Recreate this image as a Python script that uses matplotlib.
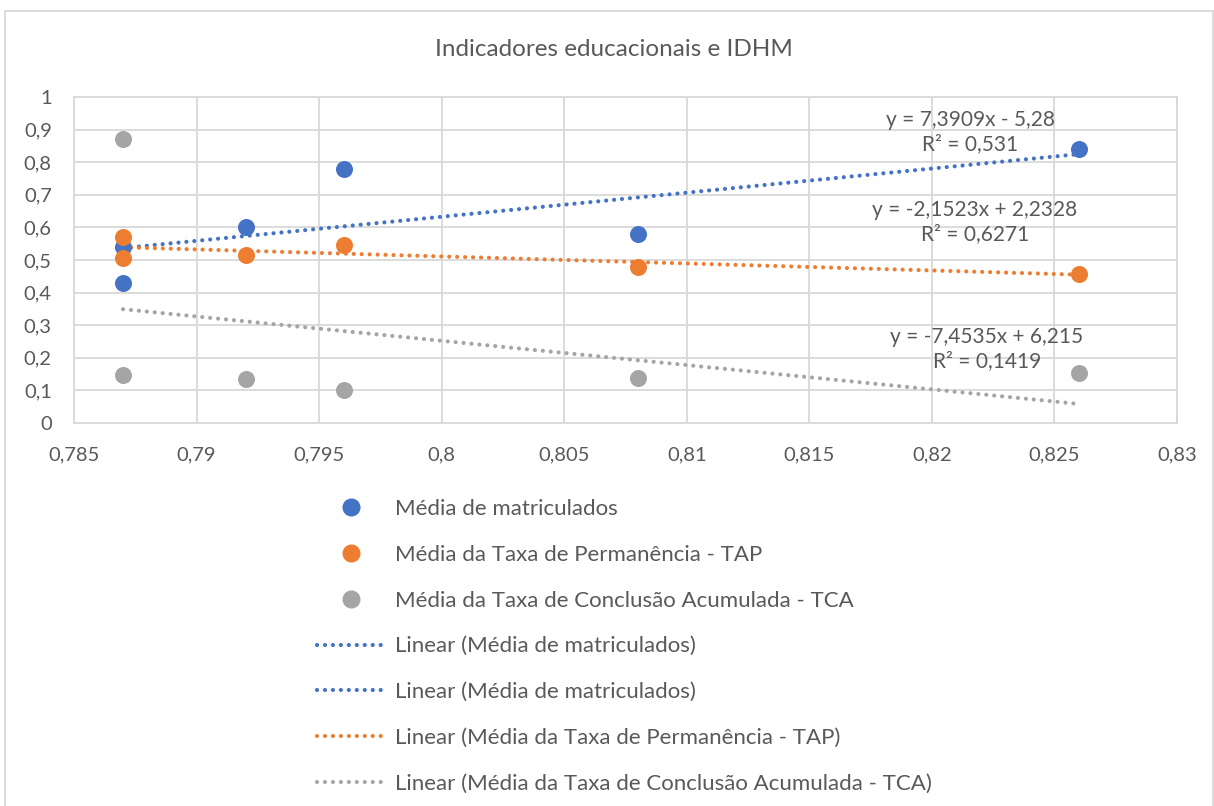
import matplotlib
matplotlib.use("Agg")
import matplotlib.pyplot as plt
from matplotlib.lines import Line2D
from matplotlib.patches import Rectangle
from matplotlib.ticker import FuncFormatter, MultipleLocator
import numpy as np

plt.rcParams['font.family'] = ['Lato', 'DejaVu Sans']

# IDHM dos municípios (eixo x)
idhm = [0.787, 0.787, 0.792, 0.796, 0.808, 0.826]

# indicadores por município
matriculados = [0.54, 0.43, 0.60, 0.78, 0.58, 0.84]
permanencia = [0.57, 0.505, 0.515, 0.545, 0.48, 0.457]
conclusao = [0.87, 0.148, 0.135, 0.10, 0.137, 0.152]

# coeficientes das linhas de tendência (inclinação, intercepto, R²)
tend_matr = (7.3909, -5.28, 0.531)
tend_tap = (-2.1523, 2.2328, 0.6271)
tend_tca = (-7.4535, 6.215, 0.1419)

nomes = ["Média de matriculados",
         "Média da Taxa de Permanência - TAP",
         "Média da Taxa de Conclusão Acumulada - TCA"]

AZUL = "#4472C4"
LARANJA = "#ED7D31"
CINZA = "#A5A5A5"
TEXTO = "#595959"
GRADE = "#D9D9D9"
FS = 14.5
FS_LEG = 16
PONTILHADO = dict(linewidth=3.0, linestyle=(0, (0.01, 1.9)), dash_capstyle="round")


def virgula(v, pos=None):
    s = ("%.3f" % v).rstrip("0").rstrip(".")
    return s.replace(".", ",")


def num(v):
    return ("%g" % v).replace(".", ",")


def equacao(a, b, r2):
    sinal = "+" if b >= 0 else "-"
    return "y = %sx %s %s\nR² = %s" % (num(a), sinal, num(abs(b)), num(r2))


fig = plt.figure(figsize=(12.14, 8.06), dpi=100)
fig.patch.set_facecolor("white")
fig.add_artist(Rectangle((5 / 1214, -0.01), 1208 / 1214, 1.01 - 11 / 806,
                         transform=fig.transFigure, fill=False,
                         edgecolor=GRADE, linewidth=1.3))

ax = fig.add_axes([74 / 1214, 1 - 423 / 806, 1103 / 1214, 326 / 806])
ax.set_xlim(0.785, 0.83)
ax.set_ylim(0, 1)
ax.xaxis.set_major_locator(MultipleLocator(0.005))
ax.yaxis.set_major_locator(MultipleLocator(0.1))
ax.xaxis.set_major_formatter(FuncFormatter(virgula))
ax.yaxis.set_major_formatter(FuncFormatter(virgula))
ax.grid(True, color=GRADE, linewidth=1.3)
ax.set_axisbelow(True)
for sp in ax.spines.values():
    sp.set_color(GRADE)
    sp.set_linewidth(1.3)
ax.tick_params(length=0, labelsize=FS, labelcolor=TEXTO)
ax.tick_params(axis="x", pad=17)
ax.tick_params(axis="y", pad=16)

x0, x1 = min(idhm), max(idhm)
xs = np.array([x0, x1])
for (a, b, r2), cor in [(tend_matr, AZUL), (tend_tap, LARANJA), (tend_tca, CINZA)]:
    ax.plot(xs, a * xs + b, color=cor, zorder=3, **PONTILHADO)

for serie, cor in [(matriculados, AZUL), (permanencia, LARANJA), (conclusao, CINZA)]:
    ax.scatter(idhm, serie, s=150, color=cor, zorder=4, linewidths=0)

ax.text(0.82156, 0.8926, equacao(*tend_matr), ha="center", va="center",
        fontsize=15, color=TEXTO, linespacing=1.3)
ax.text(0.82176, 0.6166, equacao(*tend_tap), ha="center", va="center",
        fontsize=15, color=TEXTO, linespacing=1.3)
ax.text(0.82225, 0.227, equacao(*tend_tca), ha="center", va="center",
        fontsize=15, color=TEXTO, linespacing=1.3)

fig.text(614 / 1214, 1 - 50 / 806, "Indicadores educacionais e IDHM",
         ha="center", va="center", fontsize=17.5, color=TEXTO)

handles = [
    Line2D([], [], linestyle="none", marker="o", markersize=12, color=AZUL),
    Line2D([], [], linestyle="none", marker="o", markersize=12, color=LARANJA),
    Line2D([], [], linestyle="none", marker="o", markersize=12, color=CINZA),
    Line2D([], [], color=AZUL, **PONTILHADO),
    Line2D([], [], color=AZUL, **PONTILHADO),
    Line2D([], [], color=LARANJA, **PONTILHADO),
    Line2D([], [], color=CINZA, **PONTILHADO),
]
labels = nomes + ["Linear (%s)" % nomes[0], "Linear (%s)" % nomes[0],
                  "Linear (%s)" % nomes[1], "Linear (%s)" % nomes[2]]
leg = fig.legend(handles, labels, loc="upper left",
                 bbox_to_anchor=(317 / 1214, 1 - 499 / 806),
                 frameon=False, fontsize=FS_LEG, handlelength=3.1,
                 handletextpad=0.4, labelspacing=1.16, borderpad=0,
                 borderaxespad=0)
for t in leg.get_texts():
    t.set_color(TEXTO)

fig.savefig("out.png", dpi=100)
